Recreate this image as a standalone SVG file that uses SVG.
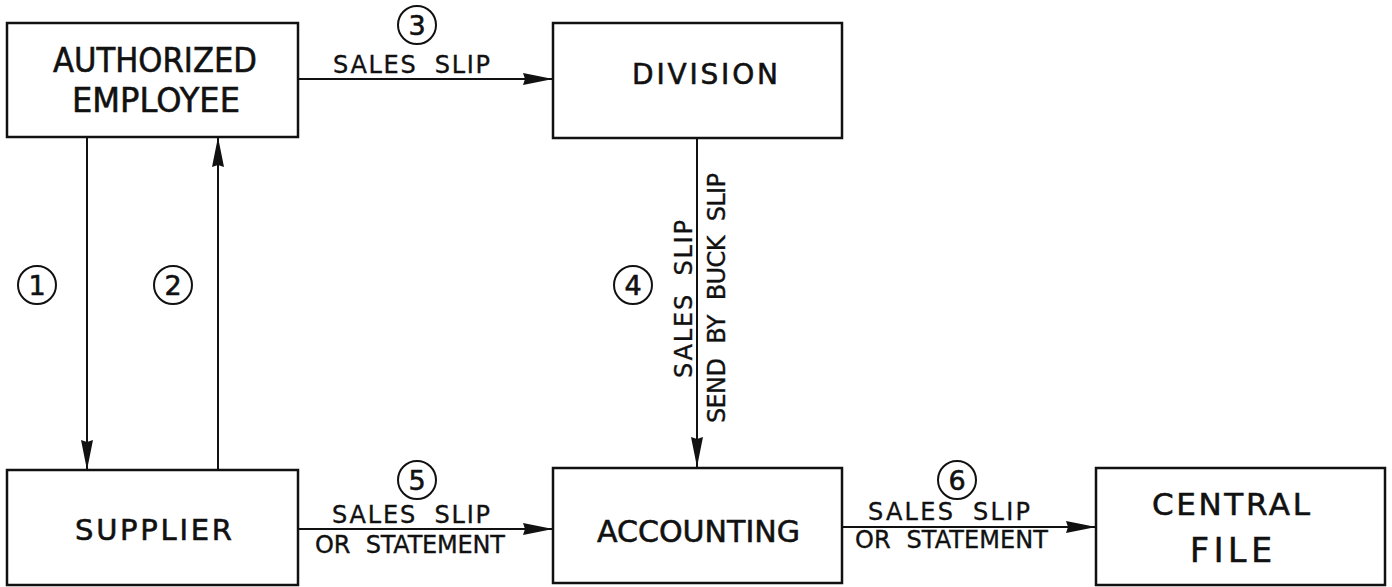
<svg xmlns="http://www.w3.org/2000/svg" width="1392" height="587" viewBox="0 0 1392 587">
  <style>
    .box { fill: #ffffff; stroke: #111111; stroke-width: 2.5; }
    .name { font-family: "DejaVu Sans", "Liberation Sans", sans-serif; fill: #111111; stroke: #111111; stroke-width: 0.6; }
    .lbl { font-family: "DejaVu Sans", "Liberation Sans", sans-serif; font-size: 24px; fill: #111111; stroke: #111111; stroke-width: 0.35; word-spacing: 8px; }
    .step circle { fill: none; stroke: #111111; stroke-width: 2; }
    .step text { font-family: "DejaVu Sans", "Liberation Sans", sans-serif; font-size: 27px; fill: #111111; stroke: #111111; stroke-width: 0.6; text-anchor: middle; }
    .wire { fill: none; stroke: #111111; stroke-width: 2; marker-end: url(#head); }
  </style>
  <defs>
    <!-- long narrow filled arrowhead -->
    <marker id="head" markerUnits="userSpaceOnUse" viewBox="0 0 30 13" markerWidth="30" markerHeight="13" refX="30" refY="6.5" orient="auto">
      <path d="M0,0.5 L30,6.5 L0,12.5 L2,6.5 Z" fill="#111111"/>
    </marker>
  </defs>

  <rect width="1392" height="587" fill="#ffffff"/>

  <!-- connectors -->
  <g id="connectors">
    <path class="wire" d="M298,79 H553"/>
    <path class="wire" d="M87,137 V470"/>
    <path class="wire" d="M218,470 V137"/>
    <path class="wire" d="M697,138 V467"/>
    <path class="wire" d="M298,529 H553"/>
    <path class="wire" d="M842,527 H1096"/>

    <text class="lbl" x="333" y="73" textLength="157" lengthAdjust="spacing">SALES  SLIP</text>
    <text class="lbl" x="332" y="523" textLength="158" lengthAdjust="spacing">SALES  SLIP</text>
    <text class="lbl" x="315" y="553" textLength="190" lengthAdjust="spacing">OR STATEMENT</text>
    <text class="lbl" x="868" y="520" textLength="162" lengthAdjust="spacing">SALES  SLIP</text>
    <text class="lbl" x="855" y="548" textLength="193" lengthAdjust="spacing">OR  STATEMENT</text>
    <text class="lbl" transform="translate(692,378) rotate(-90)" textLength="158" lengthAdjust="spacing">SALES  SLIP</text>
    <text class="lbl" transform="translate(725,423) rotate(-90)" textLength="250" lengthAdjust="spacing">SEND BY BUCK SLIP</text>
  </g>

  <!-- step numbers -->
  <g id="steps">
    <g class="step" id="step1"><circle cx="37" cy="285" r="19"/><text x="37" y="295">1</text></g>
    <g class="step" id="step2"><circle cx="173" cy="285" r="19"/><text x="173" y="295">2</text></g>
    <g class="step" id="step3"><circle cx="417" cy="25" r="19"/><text x="417" y="35">3</text></g>
    <g class="step" id="step4"><circle cx="633" cy="285" r="19"/><text x="633" y="295">4</text></g>
    <g class="step" id="step5"><circle cx="417" cy="480" r="19"/><text x="417" y="490">5</text></g>
    <g class="step" id="step6"><circle cx="957" cy="480" r="19"/><text x="957" y="490">6</text></g>
  </g>

  <!-- nodes -->
  <g id="authorized-employee">
    <rect class="box" x="7" y="23" width="291" height="114"/>
    <text class="name" x="53" y="72" font-size="33" textLength="204" lengthAdjust="spacingAndGlyphs">AUTHORIZED</text>
    <text class="name" x="72" y="112" font-size="33" textLength="168" lengthAdjust="spacingAndGlyphs">EMPLOYEE</text>
  </g>
  <g id="division">
    <rect class="box" x="553" y="23" width="289" height="115"/>
    <text class="name" x="632" y="84" font-size="28" textLength="146" lengthAdjust="spacing">DIVISION</text>
  </g>
  <g id="supplier">
    <rect class="box" x="7" y="470" width="291" height="115"/>
    <text class="name" x="75" y="540" font-size="29" textLength="157" lengthAdjust="spacing">SUPPLIER</text>
  </g>
  <g id="accounting">
    <rect class="box" x="553" y="468" width="289" height="115"/>
    <text class="name" x="597" y="542" font-size="31" textLength="203" lengthAdjust="spacingAndGlyphs">ACCOUNTING</text>
  </g>
  <g id="central-file">
    <rect class="box" x="1096" y="468" width="289" height="117"/>
    <text class="name" x="1152" y="515" font-size="31" textLength="158" lengthAdjust="spacing">CENTRAL</text>
    <text class="name" x="1190" y="562" font-size="33" textLength="82" lengthAdjust="spacing">FILE</text>
  </g>
</svg>
